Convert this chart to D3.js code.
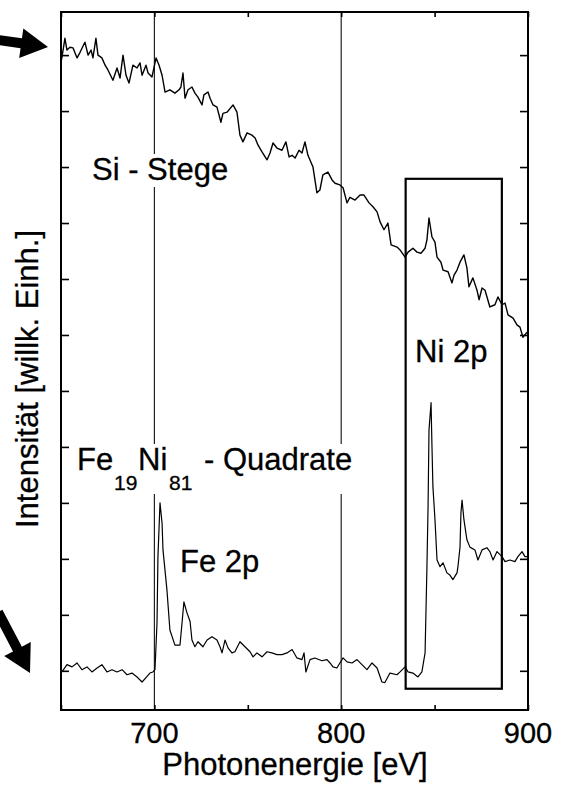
<!DOCTYPE html>
<html lang="de">
<head>
  <meta charset="utf-8">
  <script src="https://d3js.org/d3.v7.min.js"></script>
  <style>
    body, html {
      margin: 0;
      padding: 0;
      background: #fff;
    }
    text {
      font-family: "Liberation Sans", Arial, Helvetica, sans-serif;
      fill: #000;
      stroke: #000;
      stroke-width: 0.3px;
    }
    .curve {
      fill: none;
      stroke: #000;
      stroke-width: 1.4px;
      stroke-linejoin: round;
    }
  </style>
</head>
<body>
<svg id="chart" width="569" height="787"></svg>

<script>
  // photon energy [eV] and intensity [arb. units]
  var siEnergy = [650.0, 650.5, 652.1, 653.2, 654.8, 656.4, 658.6, 660.2, 662.8, 664.5, 666.1, 667.1, 668.7, 669.8,
    671.9, 673.6, 675.2, 677.8, 680.0, 681.6, 683.2, 684.8, 686.4, 688.5, 690.7, 692.3, 693.4, 695.5, 696.6, 698.7,
    700.9, 702.5, 704.1, 705.7, 708.3, 711.0, 713.2, 714.2, 715.3, 716.4, 718.0, 720.1, 721.7, 723.3, 725.5, 726.5,
    728.7, 729.8, 731.4, 733.5, 734.6, 735.6, 736.7, 738.9, 742.1, 744.2, 745.8, 747.4, 749.6, 752.2, 753.9, 755.5,
    757.6, 760.3, 761.9, 763.5, 765.6, 768.3, 770.4, 772.1, 773.7, 775.3, 777.4, 779.0, 780.6, 782.2, 784.9, 787.0,
    788.6, 790.2, 792.9, 795.1, 796.7, 799.3, 801.0, 803.1, 804.7, 807.4, 810.1, 812.2, 814.9, 817.0, 819.2, 820.8,
    822.9, 825.0, 826.7, 829.9, 831.5, 834.2, 835.8, 838.4, 840.6, 842.7, 844.9, 845.9, 847.0, 848.6, 850.2, 851.3,
    853.4, 854.5, 857.2, 859.3, 860.4, 862.0, 863.6, 865.7, 867.3, 868.4, 870.5, 872.7, 873.8, 875.4, 877.0, 879.6,
    882.3, 883.9, 886.1, 887.7, 889.3, 892.0, 894.1, 895.7, 897.3, 899.5];
  var siIntensity = [11.88, 11.96, 12.30, 12.09, 12.14, 12.13, 11.95, 12.05, 12.23, 12.00, 12.09, 11.95, 12.30, 12.00,
    11.95, 11.82, 11.73, 11.55, 11.77, 11.59, 12.00, 11.64, 11.50, 11.82, 11.77, 11.86, 11.64, 11.82, 11.68, 11.61,
    11.95, 11.82, 11.64, 11.34, 11.38, 11.32, 11.38, 11.43, 11.68, 11.23, 11.38, 11.43, 11.32, 11.25, 11.11, 11.29,
    11.34, 11.23, 11.11, 11.07, 10.93, 10.80, 10.96, 10.98, 11.11, 10.98, 10.57, 10.45, 10.61, 10.57, 10.52, 10.39,
    10.27, 10.13, 10.25, 10.43, 10.34, 10.30, 10.45, 10.18, 10.21, 10.16, 10.30, 10.25, 10.45, 10.21, 10.00, 9.54,
    9.59, 9.86, 9.91, 9.77, 9.71, 9.68, 9.63, 9.36, 9.46, 9.41, 9.50, 9.50, 9.36, 9.29, 9.20, 9.02,
    8.88, 9.00, 8.61, 8.57, 8.52, 8.39, 8.48, 8.55, 8.48, 8.46, 8.55, 8.70, 9.09, 8.75, 8.66, 8.39,
    8.30, 8.16, 8.13, 7.93, 8.07, 8.16, 8.30, 8.43, 8.20, 7.86, 8.02, 7.80, 7.63, 7.84, 7.80, 7.50,
    7.54, 7.68, 7.54, 7.57, 7.36, 7.30, 7.18, 7.14, 6.96, 7.05];

  var feniEnergy = [650.5, 653.2, 655.9, 658.6, 661.2, 663.9, 666.6, 669.3, 671.9, 674.6, 677.3, 680.0, 682.7, 685.3,
    688.0, 690.7, 693.4, 695.5, 697.6, 699.2, 700.3, 701.4, 701.9, 703.0, 704.1, 704.6, 706.7, 708.3, 711.0, 713.7,
    714.8, 715.8, 717.4, 719.1, 720.1, 721.7, 723.3, 726.0, 728.2, 730.8, 733.5, 735.1, 736.2, 737.8, 739.4, 741.5,
    743.1, 745.8, 748.5, 751.2, 752.8, 754.9, 757.6, 760.3, 762.9, 765.6, 768.3, 771.0, 773.7, 776.3, 779.0, 780.1,
    781.1, 783.3, 785.9, 789.7, 792.4, 794.0, 795.6, 797.7, 799.3, 801.0, 803.1, 805.8, 808.5, 811.1, 813.8, 816.5,
    819.2, 821.8, 823.4, 826.1, 829.9, 831.5, 834.2, 835.8, 838.4, 841.1, 843.2, 844.9, 845.9, 846.5, 847.0, 848.1,
    848.6, 849.1, 850.2, 851.3, 852.9, 854.5, 856.6, 858.2, 859.8, 862.0, 862.5, 863.6, 864.1, 864.7, 865.7, 867.3,
    868.9, 871.6, 873.2, 875.4, 878.0, 879.6, 881.3, 883.4, 886.1, 887.7, 890.3, 893.0, 894.6, 896.8, 898.4, 900.0];
  var feniIntensity = [0.98, 1.11, 1.07, 1.14, 1.02, 1.07, 0.98, 1.05, 1.11, 0.98, 1.02, 0.98, 1.02, 0.93,
    0.96, 0.89, 0.80, 0.88, 0.96, 0.98, 1.02, 1.86, 3.04, 4.00, 3.64, 3.16, 2.45, 1.73, 1.46, 1.46,
    1.86, 2.23, 2.04, 1.88, 1.55, 1.43, 1.52, 1.43, 1.55, 1.61, 1.55, 1.43, 1.32, 1.55, 1.41, 1.32,
    1.34, 1.52, 1.43, 1.34, 1.25, 1.32, 1.25, 1.34, 1.32, 1.29, 1.29, 1.32, 1.38, 1.23, 1.20, 1.32,
    0.98, 1.20, 1.23, 1.18, 1.20, 1.14, 1.07, 1.05, 1.14, 1.23, 1.16, 1.14, 1.20, 1.11, 1.02, 1.14,
    1.05, 0.80, 0.79, 0.96, 0.93, 0.98, 1.07, 0.98, 0.96, 0.89, 0.98, 1.32, 2.86, 3.93, 5.30, 5.79,
    5.00, 4.29, 3.70, 2.98, 2.86, 2.93, 2.75, 2.71, 2.63, 2.75, 2.86, 3.21, 3.82, 4.05, 3.70, 3.34,
    3.21, 3.16, 2.98, 3.16, 3.20, 3.13, 2.98, 3.13, 3.04, 2.95, 2.98, 2.95, 3.04, 3.13, 3.04, 3.04];

  var xTickValues = [650, 700, 750, 800, 850, 900];
  var xTickLabels = [700, 800, 900];
  var yTickValues = [1, 2, 3, 4, 5, 6, 7, 8, 9, 10, 11, 12];
  var markerLines = [700, 800];
  var niBoxEnergy = [834.5, 886.0];
  var niBoxIntensity = [0.68, 9.79];

  var svg = d3.select("#chart");
  // plot frame in px (note: "top" is taken by window.top)
  var plotL = 61, plotR = 528, plotT = 12, plotB = 710;

  var x = d3.scaleLinear().domain([650, 900]).range([plotL, plotR]);
  var y = d3.scaleLinear().domain([0.3, 12.77]).range([plotB, plotT]);

  // thin vertical lines at 700 / 800 eV
  svg.selectAll(".marker")
    .data(markerLines)
    .enter().append("line")
    .attr("x1", function(d) { return x(d); })
    .attr("x2", function(d) { return x(d); })
    .attr("y1", plotT)
    .attr("y2", plotB)
    .attr("stroke", "#222")
    .attr("stroke-width", 1.2);

  // white patches behind labels so the marker lines break there
  var knockG = svg.append("g");

  // curves
  var line = d3.line()
    .x(function(d) { return x(d[0]); })
    .y(function(d) { return y(d[1]); });

  svg.append("path")
    .attr("class", "curve")
    .attr("d", line(d3.zip(siEnergy, siIntensity)));

  svg.append("path")
    .attr("class", "curve")
    .style("stroke-width", "1.2px")
    .attr("d", line(d3.zip(feniEnergy, feniIntensity)));

  // Ni 2p box
  svg.append("rect")
    .attr("x", x(niBoxEnergy[0]))
    .attr("y", y(niBoxIntensity[1]))
    .attr("width", x(niBoxEnergy[1]) - x(niBoxEnergy[0]))
    .attr("height", y(niBoxIntensity[0]) - y(niBoxIntensity[1]))
    .attr("fill", "none")
    .attr("stroke", "#000")
    .attr("stroke-width", 2.2);

  // axes, ticks inward
  var tickLen = 8;
  svg.append("g")
    .attr("transform", "translate(0," + plotB + ")")
    .call(d3.axisTop(x).tickValues(xTickValues).tickSize(5).tickFormat(""));
  svg.append("g")
    .attr("transform", "translate(0," + plotT + ")")
    .call(d3.axisBottom(x).tickValues(xTickValues).tickSize(5).tickFormat(""));
  svg.append("g")
    .attr("transform", "translate(" + plotL + ",0)")
    .call(d3.axisRight(y).tickValues(yTickValues).tickSize(tickLen).tickFormat(""));
  svg.append("g")
    .attr("transform", "translate(" + plotR + ",0)")
    .call(d3.axisLeft(y).tickValues(yTickValues).tickSize(tickLen).tickFormat(""));

  svg.selectAll(".domain").remove();
  svg.selectAll(".tick line").attr("stroke", "#000").attr("stroke-width", 1.6);

  svg.append("rect")
    .attr("x", plotL)
    .attr("y", plotT)
    .attr("width", plotR - plotL)
    .attr("height", plotB - plotT)
    .attr("fill", "none")
    .attr("stroke", "#000")
    .attr("stroke-width", 2);

  // tick labels
  svg.selectAll(".xlab")
    .data(xTickLabels)
    .enter().append("text")
    .attr("x", function(d) { return x(d); })
    .attr("y", 743)
    .attr("text-anchor", "middle")
    .style("font-size", "29px")
    .text(function(d) { return d; });

  svg.append("text")
    .attr("x", 295)
    .attr("y", 775)
    .attr("text-anchor", "middle")
    .style("font-size", "31px")
    .text("Photonenergie [eV]");

  svg.append("text")
    .attr("transform", "translate(38,379) rotate(-90)")
    .attr("text-anchor", "middle")
    .style("font-size", "31px")
    .text("Intensität [willk. Einh.]");

  // annotations
  function label(tx, ty, str, size) {
    return svg.append("text")
      .attr("x", tx)
      .attr("y", ty)
      .style("font-size", size + "px")
      .text(str)
      .node();
  }
  function knockout(nodes) {
    var boxes = nodes.map(function(n) { return n.getBBox(); });
    var x0 = d3.min(boxes, function(b) { return b.x; }),
        y0 = d3.min(boxes, function(b) { return b.y; }),
        x1 = d3.max(boxes, function(b) { return b.x + b.width; }),
        y1 = d3.max(boxes, function(b) { return b.y + b.height; });
    knockG.append("rect")
      .attr("x", x0).attr("y", y0 + 2)
      .attr("width", x1 - x0).attr("height", y1 - y0 - 2)
      .attr("fill", "#fff");
  }

  knockout([label(92, 180, "Si - Stege", 31)]);
  label(415, 362, "Ni 2p", 31);
  label(180, 572, "Fe 2p", 31);
  knockout([
    label(77, 470, "Fe", 31),
    label(114, 490, "19", 21),
    label(138, 470, "Ni", 31),
    label(169, 490, "81", 21),
    label(204, 470, "- Quadrate", 31)
  ]);

  // thick arrows at the left
  function arrow(x0, y0, x1, y1) {
    var dx = x1 - x0, dy = y1 - y0, len = Math.sqrt(dx * dx + dy * dy);
    var ux = dx / len, uy = dy / len, nx = -uy, ny = ux;
    var hl = 27, hw = 15, sw = 5;
    var bx = x1 - ux * hl, by = y1 - uy * hl;
    var pts = [
      [x0 + nx * sw, y0 + ny * sw],
      [bx + nx * sw, by + ny * sw],
      [bx + nx * hw, by + ny * hw],
      [x1, y1],
      [bx - nx * hw, by - ny * hw],
      [bx - nx * sw, by - ny * sw],
      [x0 - nx * sw, y0 - ny * sw]
    ];
    svg.append("path")
      .attr("d", "M" + pts.join("L") + "Z")
      .attr("fill", "#000");
  }
  arrow(-2, 40, 48, 47);
  arrow(-2, 612, 30, 673);
</script>
</body>
</html>
